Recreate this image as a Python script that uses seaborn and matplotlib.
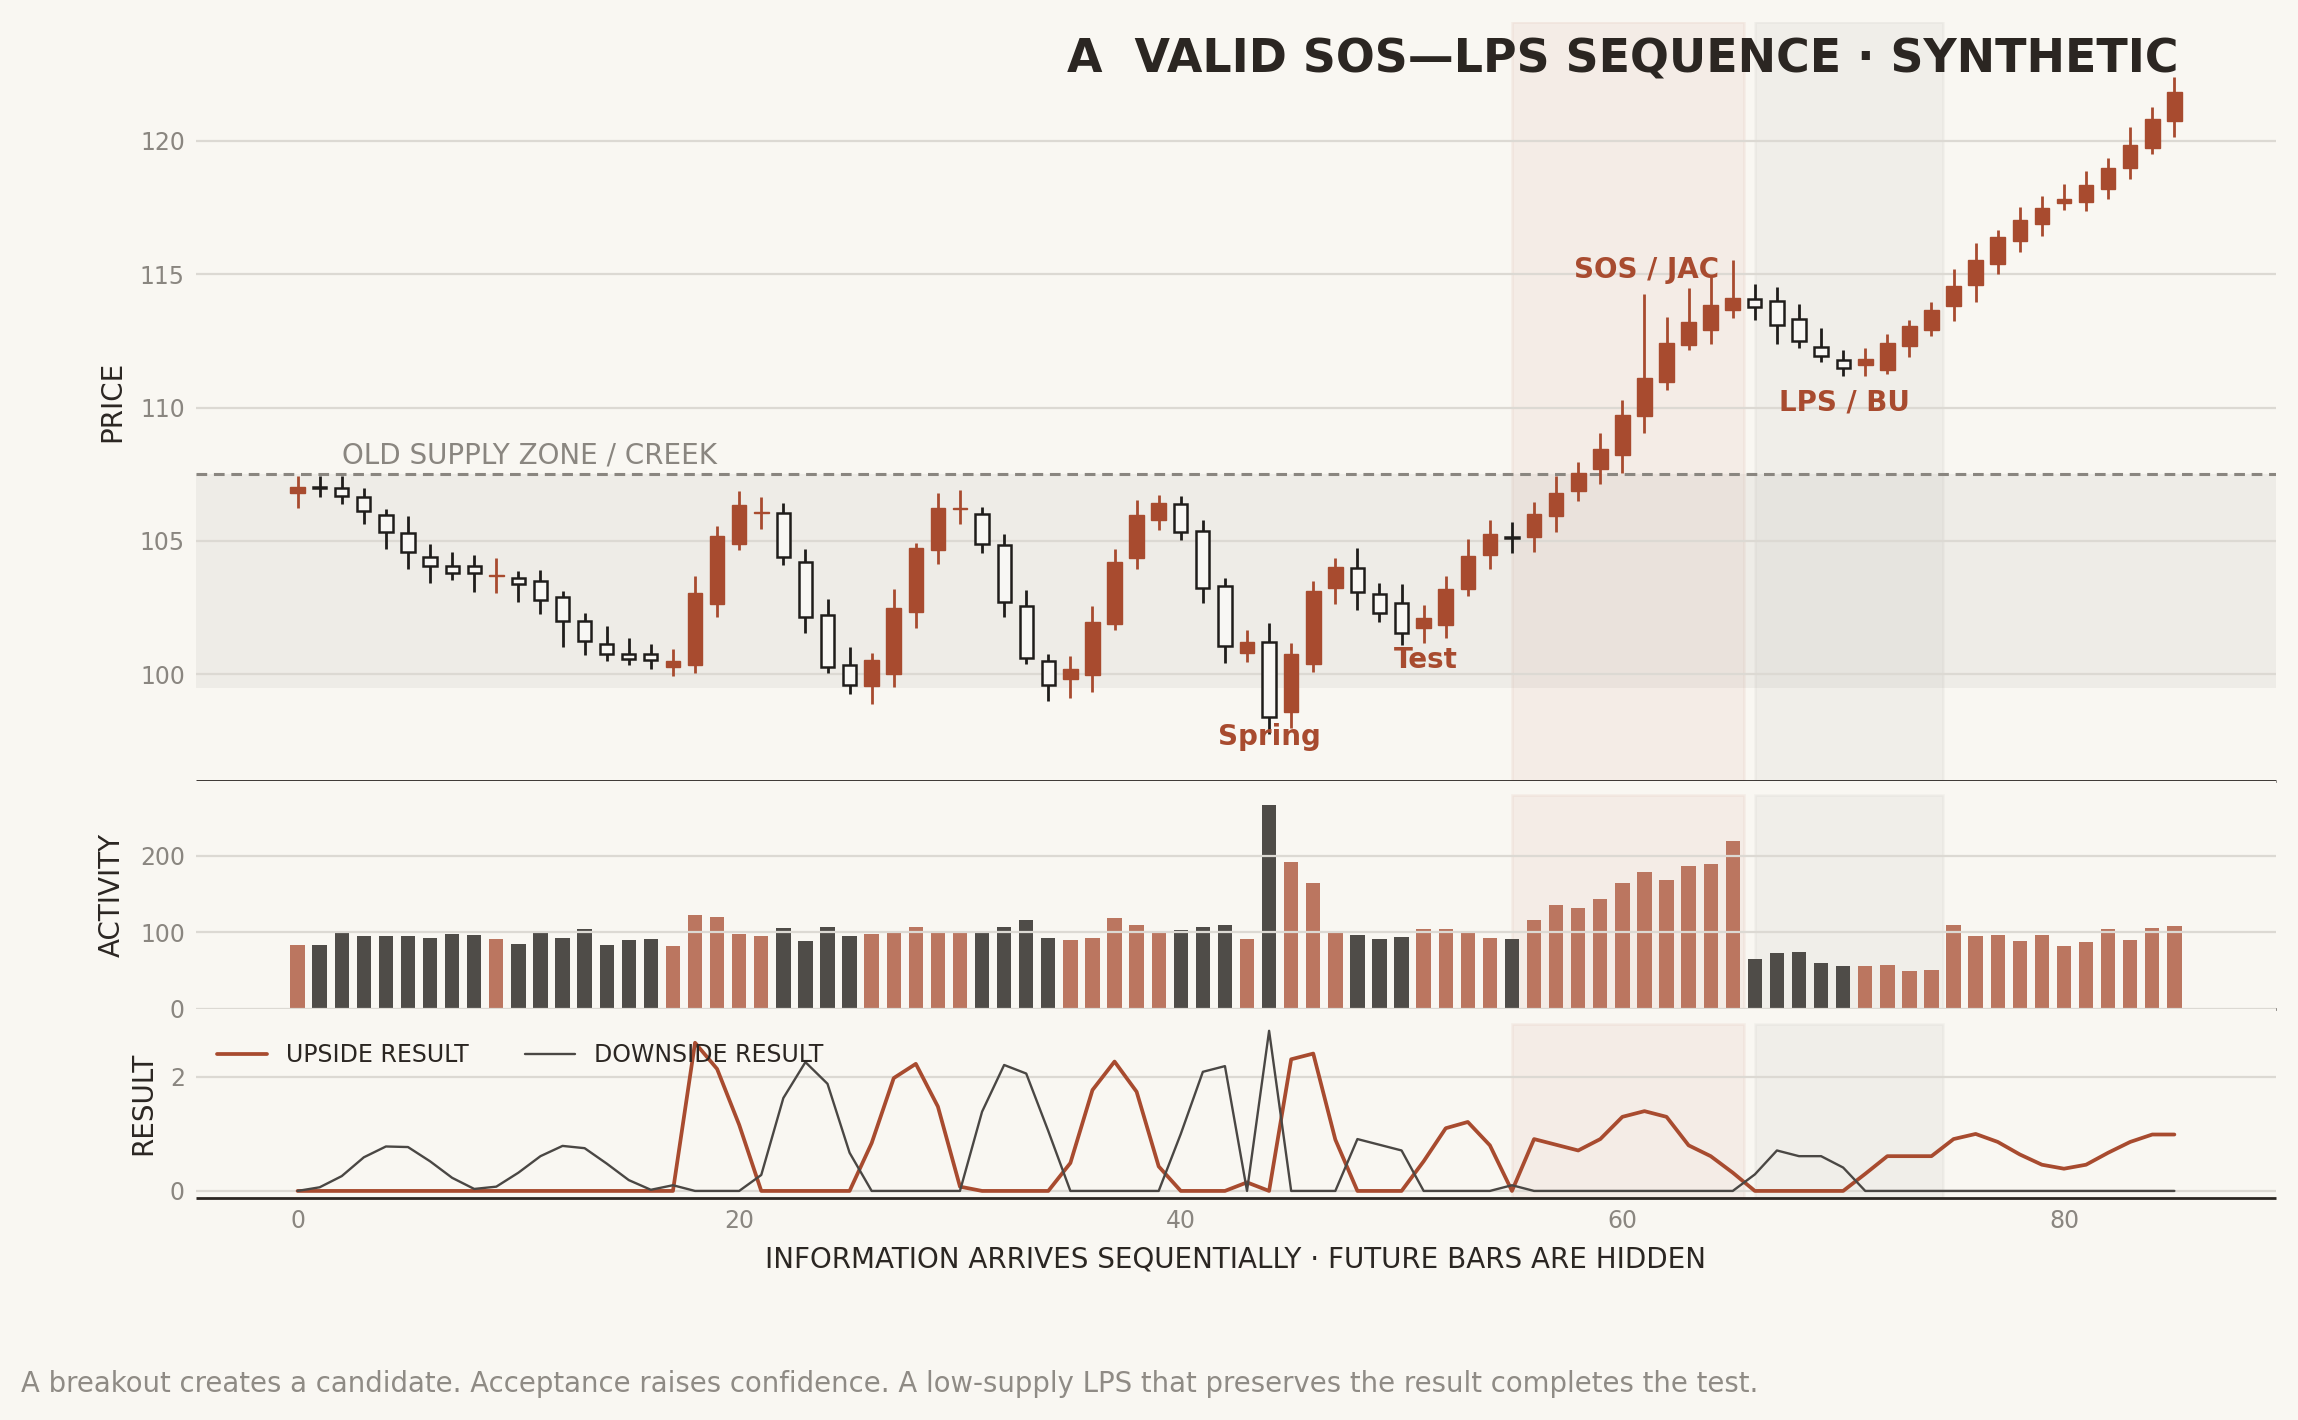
import numpy as np
import pandas as pd
import matplotlib
matplotlib.use("Agg")
import matplotlib.pyplot as plt
import seaborn as sns

# ---------------- data ----------------
opens = [106.78, 107.02, 107.00, 106.63, 105.98, 105.28, 104.41, 104.06, 104.06, 103.69,
         103.62, 103.50, 102.89, 101.99, 101.12, 100.76, 100.74, 100.28, 100.34, 102.64,
         104.90, 106.05, 106.03, 104.19, 102.21, 100.33, 99.55, 100.01, 102.34, 104.67,
         106.20, 106.00, 104.84, 102.56, 100.51, 99.82, 99.96, 101.89, 104.34, 105.79,
         106.38, 105.36, 103.30, 100.78, 101.22, 98.60, 100.39, 103.22, 104.00, 102.99,
         102.67, 101.72, 101.86, 103.18, 104.46, 105.13, 105.16, 105.95, 106.86, 107.70,
         108.21, 109.67, 110.97, 112.34, 112.91, 113.64, 114.06, 113.98, 113.33, 112.27,
         111.79, 111.58, 111.39, 112.29, 112.92, 113.80, 114.59, 115.38, 116.25, 116.88,
         117.68, 117.72, 118.21, 119.00, 119.75, 120.73]
highs = [107.44, 107.44, 107.44, 106.98, 106.19, 105.94, 104.87, 104.59, 104.46, 104.34,
         103.87, 103.90, 103.12, 102.31, 101.80, 101.34, 101.15, 100.93, 103.68, 105.56,
         106.88, 106.63, 106.42, 104.69, 102.81, 101.02, 100.80, 103.18, 104.91, 106.79,
         106.92, 106.28, 105.25, 103.16, 100.74, 100.70, 102.56, 104.69, 106.53, 106.73,
         106.69, 105.79, 103.62, 101.64, 101.92, 101.18, 103.50, 104.36, 104.74, 103.43,
         103.38, 102.58, 103.69, 105.08, 105.80, 105.69, 106.46, 107.45, 107.94, 109.06,
         110.27, 114.24, 113.41, 114.49, 114.91, 115.55, 114.65, 114.52, 113.87, 112.99,
         112.17, 112.24, 112.74, 113.27, 113.96, 115.18, 116.18, 116.65, 117.51, 117.93,
         118.38, 118.87, 119.35, 120.51, 121.27, 122.40]
lows = [106.25, 106.63, 106.40, 105.65, 104.71, 103.93, 103.43, 103.52, 103.10, 103.06,
        102.72, 102.27, 101.03, 100.71, 100.51, 100.33, 100.18, 99.92, 100.05, 102.16,
        104.66, 105.46, 104.09, 101.55, 100.03, 99.24, 98.90, 99.52, 101.72, 104.12,
        105.65, 104.56, 102.16, 100.39, 99.01, 99.11, 99.34, 101.65, 103.96, 105.41,
        105.03, 102.68, 100.43, 100.45, 97.75, 98.00, 100.10, 102.62, 102.39, 101.94,
        101.09, 101.16, 101.35, 102.92, 103.94, 104.53, 104.58, 105.34, 106.48, 107.12,
        107.56, 109.04, 110.65, 112.14, 112.39, 113.34, 113.30, 112.39, 112.24, 111.70,
        111.17, 111.20, 111.27, 111.89, 112.67, 113.25, 113.96, 115.00, 115.84, 116.44,
        117.41, 117.38, 117.84, 118.56, 119.50, 120.16]
closes = [107.03, 106.98, 106.69, 106.13, 105.35, 104.59, 104.06, 103.78, 103.78, 103.73,
          103.40, 102.77, 101.99, 101.24, 100.76, 100.58, 100.53, 100.49, 103.06, 105.19,
          106.35, 106.10, 104.40, 102.14, 100.26, 99.61, 100.53, 102.49, 104.75, 106.22,
          106.25, 104.87, 102.71, 100.61, 99.61, 100.18, 101.95, 104.21, 105.98, 106.43,
          105.35, 103.25, 101.05, 101.22, 98.39, 100.74, 103.13, 104.03, 103.08, 102.29,
          101.56, 102.11, 103.19, 104.42, 105.24, 105.10, 106.01, 106.81, 107.54, 108.43,
          109.72, 111.12, 112.43, 113.22, 113.83, 114.11, 113.77, 113.08, 112.48, 111.93,
          111.49, 111.83, 112.43, 113.04, 113.67, 114.56, 115.53, 116.40, 117.03, 117.49,
          117.84, 118.35, 118.97, 119.85, 120.83, 121.82]
activity = [82.9, 82.9, 99.1, 94.7, 94.7, 94.7, 92.1, 97.4, 96.1, 90.8,
            84.2, 98.7, 92.1, 103.9, 82.9, 89.5, 90.8, 81.6, 122.4, 119.7,
            97.4, 94.7, 105.3, 88.2, 106.6, 94.7, 97.4, 100.0, 106.6, 100.0,
            99.1, 100.0, 106.6, 115.8, 92.1, 89.5, 92.1, 118.4, 109.2, 100.0,
            102.6, 106.6, 109.2, 90.8, 265.8, 192.1, 164.5, 100.0, 96.1, 90.8,
            93.4, 103.9, 103.9, 100.0, 92.1, 90.8, 116.2, 135.5, 131.6, 143.4,
            164.5, 178.9, 168.4, 186.8, 189.5, 218.4, 64.5, 72.4, 73.7, 59.2,
            55.3, 55.3, 56.6, 48.7, 50.0, 109.2, 94.7, 96.1, 88.2, 96.1,
            81.6, 86.8, 103.9, 89.5, 105.3, 107.9]
upside = [0, 0, 0, 0, 0, 0, 0, 0, 0, 0,
          0, 0, 0, 0, 0, 0, 0, 0, 2.60, 2.14,
          1.16, 0, 0, 0, 0, 0, 0.84, 1.98, 2.23, 1.48,
          0.075, 0, 0, 0, 0, 0.49, 1.77, 2.27, 1.74, 0.43,
          0, 0, 0, 0.15, 0, 2.31, 2.41, 0.90, 0, 0,
          0, 0.52, 1.10, 1.21, 0.80, 0, 0.91, 0.81, 0.71, 0.91,
          1.30, 1.40, 1.30, 0.80, 0.61, 0.32, 0, 0, 0, 0,
          0, 0.30, 0.61, 0.61, 0.61, 0.91, 1.00, 0.86, 0.64, 0.46,
          0.39, 0.46, 0.67, 0.86, 0.99, 0.99]
downside = [0, 0.064, 0.26, 0.59, 0.78, 0.77, 0.52, 0.23, 0.035, 0.075,
            0.32, 0.61, 0.79, 0.75, 0.48, 0.19, 0.02, 0.10, 0, 0,
            0, 0.28, 1.63, 2.26, 1.88, 0.67, 0, 0, 0, 0,
            0, 1.39, 2.21, 2.06, 1.05, 0, 0, 0, 0, 0,
            1.00, 2.09, 2.19, 0, 2.81, 0, 0, 0, 0.91, 0.81,
            0.71, 0, 0, 0, 0, 0.10, 0, 0, 0, 0,
            0, 0, 0, 0, 0, 0, 0.29, 0.71, 0.61, 0.61,
            0.41, 0, 0, 0, 0, 0, 0, 0, 0, 0,
            0, 0, 0, 0, 0, 0]
creek_level = 107.5
zone_floor = 99.5
sos_window = (55, 65.5)
lps_window = (66, 74.5)
price_ticks = [100, 105, 110, 115, 120]
activity_ticks = [0, 100, 200]
result_ticks = [0, 2]
bar_ticks = [0, 20, 40, 60, 80]

title = "A  VALID SOS\u2014LPS SEQUENCE \u00b7 SYNTHETIC"
x_label = "INFORMATION ARRIVES SEQUENTIALLY \u00b7 FUTURE BARS ARE HIDDEN"
footer = ("A breakout creates a candidate. Acceptance raises confidence. "
          "A low-supply LPS that preserves the result completes the test.")

# ---------------- style ----------------
BG = "#f9f7f2"
RUST = "#a84b2f"
INK = "#2b2622"
DARK = "#1f1d1b"
GRAY = "#8a8680"
VOL_UP = "#bb7660"
VOL_DN = "#4f4c48"
LINE_DN = "#4a4744"

sns.set_theme(style="whitegrid", rc={
    "axes.facecolor": BG, "figure.facecolor": BG,
    "grid.color": "#dcd9d3", "grid.linewidth": 0.8,
})
plt.rcParams["font.family"] = ["DejaVu Sans"]

fig = plt.figure(figsize=(11.49, 7.10), dpi=200, facecolor=BG)
gs = fig.add_gridspec(3, 1, height_ratios=[4, 1.2, 1], hspace=0,
                      left=0.0853, right=0.9904, top=0.9847, bottom=0.1561)
ax1 = fig.add_subplot(gs[0])
ax2 = fig.add_subplot(gs[1], sharex=ax1)
ax3 = fig.add_subplot(gs[2], sharex=ax1)

x = np.arange(len(opens))
o = np.array(opens); h = np.array(highs); l = np.array(lows); c = np.array(closes)
up = c > o
body_lo = np.minimum(o, c)
body_h = np.maximum(np.abs(c - o), 0.03)

# ---- spans ----
rust_rgb = matplotlib.colors.to_rgb(RUST)
gray_rgb = matplotlib.colors.to_rgb("#7d7a74")
for ax, ymax in [(ax1, 1.0), (ax2, 0.936), (ax3, 0.918)]:
    ax.axvspan(*sos_window, ymin=0, ymax=ymax, facecolor=(*rust_rgb, 0.06),
               edgecolor=(*rust_rgb, 0.05), lw=1.0, zorder=0)
    ax.axvspan(*lps_window, ymin=0, ymax=ymax, facecolor=(*gray_rgb, 0.07),
               edgecolor=(*gray_rgb, 0.05), lw=1.0, zorder=0)

# ---- price panel ----
ax1.axhspan(zone_floor, creek_level, color="#8a8680", alpha=0.09, lw=0, zorder=0.5)
ax1.axhline(creek_level, color=GRAY, lw=1.1, ls=(0, (3.5, 2.2)), zorder=2)
ax1.text(2.0, creek_level + 0.42, "OLD SUPPLY ZONE / CREEK", color=GRAY,
         fontsize=10, ha="left", va="baseline")

ax1.vlines(x[up], l[up], h[up], color=RUST, lw=1.0, zorder=3)
ax1.vlines(x[~up], l[~up], h[~up], color=DARK, lw=1.0, zorder=3)
ax1.bar(x[up], body_h[up], bottom=body_lo[up], width=0.66, color=RUST,
        edgecolor=RUST, linewidth=0.5, zorder=4)
ax1.bar(x[~up], body_h[~up], bottom=body_lo[~up], width=0.6, color="#f8f7f4",
        edgecolor=DARK, linewidth=0.9, zorder=4)

for label, (tx, ty) in [("Spring", (44.0, 97.33)), ("Test", (51.1, 100.24)),
                        ("SOS / JAC", (61.1, 114.87)), ("LPS / BU", (70.05, 109.89))]:
    ax1.text(tx, ty, label, color=RUST, fontsize=10, fontweight="bold",
             ha="center", va="baseline", zorder=6)

ax1.set_ylim(96.0, 124.47)
ax1.set_yticks(price_ticks)
ax1.set_ylabel("PRICE", fontsize=10, color=INK, labelpad=5)

# ---- activity panel ----
vol_df = pd.DataFrame({"bar": x, "activity": activity,
                       "direction": np.where(up, "up", "down")})
sns.barplot(data=vol_df, x="bar", y="activity", hue="direction",
            palette={"up": VOL_UP, "down": VOL_DN}, native_scale=True,
            dodge=False, width=0.65, saturation=1, legend=False,
            errorbar=None, ax=ax2, zorder=1, linewidth=0)
ax2.set_ylim(0, max(activity) * 1.12)
ax2.set_yticks(activity_ticks)
ax2.set_ylabel("ACTIVITY", fontsize=10, color=INK, labelpad=5)
ax2.set_xlabel("")
ax2.set_axisbelow(False)

# ---- result panel ----
sns.lineplot(x=x, y=upside, color=RUST, lw=1.35, label="UPSIDE RESULT", ax=ax3)
sns.lineplot(x=x, y=downside, color=LINE_DN, lw=0.85, label="DOWNSIDE RESULT", ax=ax3)
ax3.set_ylim(-0.13, 3.2)
ax3.set_yticks(result_ticks)
ax3.set_ylabel("RESULT", fontsize=10, color=INK, labelpad=4.5)
ax3.set_xticks(bar_ticks)
ax3.set_xlabel(x_label, fontsize=10, color=INK, labelpad=4.5)
leg = ax3.legend(loc="upper left", bbox_to_anchor=(0.0, 0.93), ncol=2, frameon=False,
                 fontsize=8.5, handlelength=2.1, columnspacing=2.4, handletextpad=0.8)
for t in leg.get_texts():
    t.set_color(INK)

for ax in (ax1, ax2, ax3):
    ax.set_xlim(-4.6, 89.6)
    ax.grid(axis="x", visible=False)
    ax.grid(axis="y", color="#dcd9d3", lw=0.8)
    for side in ("left", "right", "top"):
        ax.spines[side].set_visible(False)
    ax.spines["bottom"].set_visible(True)
    ax.spines["bottom"].set_color(INK)
    ax.spines["bottom"].set_linewidth(1.0)
    ax.spines["bottom"].set_capstyle("butt")
    ax.tick_params(length=0, labelsize=8.5, labelcolor=GRAY, pad=4)
ax1.set_axisbelow(True)
ax1.tick_params(labelbottom=False)
ax2.tick_params(labelbottom=False)

fig.text(0.948, 0.9491, title, ha="right", va="baseline", fontsize=16.5,
         fontweight="bold", color=INK)
fig.text(0.009, 0.0199, footer, ha="left", va="baseline", fontsize=9.93, color="#8f8b85")

fig.savefig("out.png", dpi=200, facecolor=BG)
